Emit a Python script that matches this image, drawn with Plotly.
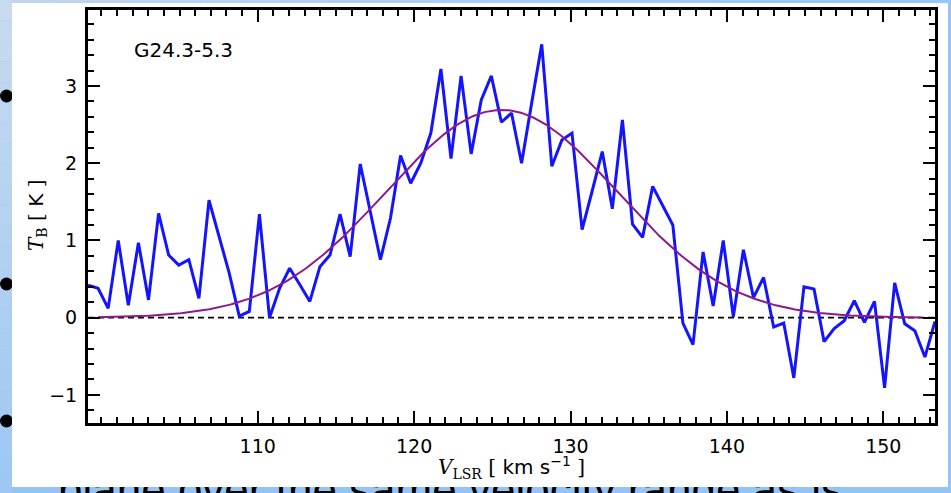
import numpy as np
import plotly.graph_objects as go

# ---- spectrum ---------------------------------------------------------
SOURCE = "G24.3-5.3"
V_START = 99.15          # km/s, velocity of first channel
CHANNEL_WIDTH = 0.6447   # km/s
TB = [0.42, 0.38, 0.12, 1.00, 0.16, 0.97, 0.23, 1.35, 0.81, 0.68,
      0.75, 0.25, 1.52, 1.05, 0.58, 0.02, 0.08, 1.34, 0.00, 0.38,
      0.64, 0.43, 0.21, 0.66, 0.81, 1.34, 0.79, 1.99, 1.37, 0.75,
      1.29, 2.10, 1.74, 2.00, 2.39, 3.22, 2.06, 3.13, 2.12, 2.82,
      3.13, 2.53, 2.65, 2.00, 2.78, 3.54, 1.96, 2.30, 2.39, 1.14,
      1.64, 2.15, 1.41, 2.56, 1.21, 1.04, 1.70, 1.45, 1.20, -0.07,
      -0.35, 0.85, 0.15, 1.00, 0.01, 0.88, 0.26, 0.52, -0.12, -0.07,
      -0.78, 0.40, 0.37, -0.31, -0.14, -0.04, 0.22, -0.06, 0.21, -0.91,
      0.45, -0.08, -0.17, -0.51, -0.05]

# Gaussian fit parameters
FIT_AMP = 2.69       # K
FIT_CENTER = 125.6   # km/s
FIT_SIGMA = 7.38     # km/s
FIT_VRANGE = (99.8, 152.4)

X_TICKS = [110, 120, 130, 140, 150]
Y_TICKS = [-1, 0, 1, 2, 3]
Y_RANGE = [-1.36, 3.99]

FOOTER = "plane over the same velocity range as is"

# ---- derived arrays ---------------------------------------------------
v = V_START + CHANNEL_WIDTH * np.arange(len(TB))
v_fit = np.linspace(FIT_VRANGE[0], FIT_VRANGE[1], 400)
t_fit = FIT_AMP * np.exp(-0.5 * ((v_fit - FIT_CENTER) / FIT_SIGMA) ** 2)

W, H = 951, 493


def px(x):
    return x / W


def py(y):
    return 1 - y / H


fig = go.Figure()

# slide text peeking out underneath the white card (clipped strip)
fig.add_trace(go.Scatter(
    x=[58], y=[494.0], text=[FOOTER], mode="text",
    textposition="middle right",
    textfont=dict(family="Liberation Sans", size=44, color="black"),
    cliponaxis=True, xaxis="x2", yaxis="y2", hoverinfo="skip",
    showlegend=False))

# spectrum and fit
fig.add_trace(go.Scatter(
    x=v, y=TB, mode="lines", line=dict(color="#1414ff", width=3),
    showlegend=False, hoverinfo="skip"))
fig.add_trace(go.Scatter(
    x=v_fit, y=t_fit, mode="lines", line=dict(color="#8b1a8b", width=2),
    showlegend=False, hoverinfo="skip"))

shapes = []

# slide background: gradient strips around the card
n = 24
c_top = np.array([200, 218, 238])
c_bot = np.array([158, 200, 244])
for i in range(n):
    f = i / (n - 1)
    c = (c_top * (1 - f) + c_bot * f).astype(int)
    shapes.append(dict(type="rect", xref="paper", yref="paper",
                       x0=px(0), x1=px(12), y0=py(H * i / n), y1=py(H * (i + 1) / n),
                       fillcolor=f"rgb({c[0]},{c[1]},{c[2]})", line=dict(width=0),
                       layer="below"))
c_l = np.array([190, 214, 240])
c_r = np.array([150, 198, 247])
for i in range(n):
    f = i / (n - 1)
    c = (c_l * (1 - f) + c_r * f).astype(int)
    shapes.append(dict(type="rect", xref="paper", yref="paper",
                       x0=px(12 + (W - 12) * i / n), x1=px(12 + (W - 12) * (i + 1) / n),
                       y0=py(0), y1=py(3),
                       fillcolor=f"rgb({c[0]},{c[1]},{c[2]})", line=dict(width=0),
                       layer="below"))

# bullets of the slide text
for yb in [96, 284, 421]:
    shapes.append(dict(type="circle", xref="paper", yref="paper",
                       x0=px(0), x1=px(13), y0=py(yb - 6.5), y1=py(yb + 6.5),
                       fillcolor="black", line=dict(width=0), layer="below"))

# white card holding the plot
shapes.append(dict(type="rect", xref="paper", yref="paper",
                   x0=px(12), x1=px(948), y0=py(3), y1=py(487),
                   fillcolor="white", line=dict(width=0), layer="below"))

# zero level
shapes.append(dict(type="line", xref="x domain", yref="y",
                   x0=0, x1=1, y0=0, y1=0,
                   line=dict(color="black", width=1.6, dash="6px,4px"),
                   layer="below"))

fig.update_layout(shapes=shapes)

tick_font = dict(family="DejaVu Sans", size=19, color="black")
axis_common = dict(
    showline=True, linecolor="black", linewidth=3, mirror="ticks",
    ticks="inside", tickcolor="black", tickwidth=2, ticklen=12,
    showgrid=False, zeroline=False, tickfont=tick_font,
)

fig.update_layout(
    width=W, height=H,
    margin=dict(l=0, r=0, t=0, b=0),
    paper_bgcolor="rgb(148,196,246)",
    plot_bgcolor="rgba(0,0,0,0)",
    xaxis=dict(
        domain=[px(88), px(935)], range=[v[0], v[-1]],
        tickvals=X_TICKS, ticktext=[str(t) for t in X_TICKS],
        minor=dict(dtick=1, tick0=0, ticks="inside", ticklen=6,
                   tickwidth=1.5, tickcolor="black"),
        ticklabelstandoff=4,
        **axis_common),
    yaxis=dict(
        domain=[1 - 422.7 / H, 1 - 9.5 / H], range=Y_RANGE,
        tickvals=Y_TICKS, ticktext=[str(t).replace("-", "\u2212") for t in Y_TICKS],
        minor=dict(dtick=0.2, tick0=0, ticks="inside", ticklen=6,
                   tickwidth=1.5, tickcolor="black"),
        ticklabelstandoff=4,
        **axis_common),
    xaxis2=dict(domain=[0, 1], range=[0, W], visible=False, anchor="y2"),
    yaxis2=dict(domain=[0, 6 / H], range=[H, 487], visible=False, anchor="x2"),
    annotations=[
        dict(text=SOURCE, xref="paper", yref="paper", x=px(132), y=py(50),
             xanchor="left", yanchor="middle", showarrow=False,
             font=dict(family="DejaVu Sans", size=20, color="black")),
        dict(text="<span style='font-family:DejaVu Serif'><i>V</i><sub>LSR</sub> [ </span>"
                  "km s<sup>\u22121</sup><span style='font-family:DejaVu Serif'> ]</span>",
             xref="paper", yref="paper", x=px(511), y=py(467),
             xanchor="center", yanchor="middle", showarrow=False,
             font=dict(family="DejaVu Sans", size=20, color="black")),
        dict(text="<span style='font-family:DejaVu Serif'><i>T</i><sub>B</sub> [ </span>"
                  "K<span style='font-family:DejaVu Serif'> ]</span>",
             xref="paper", yref="paper", x=px(37), y=py(216),
             xanchor="center", yanchor="middle", showarrow=False, textangle=-90,
             font=dict(family="DejaVu Sans", size=20, color="black")),
    ],
)

fig.write_html("out.html")
